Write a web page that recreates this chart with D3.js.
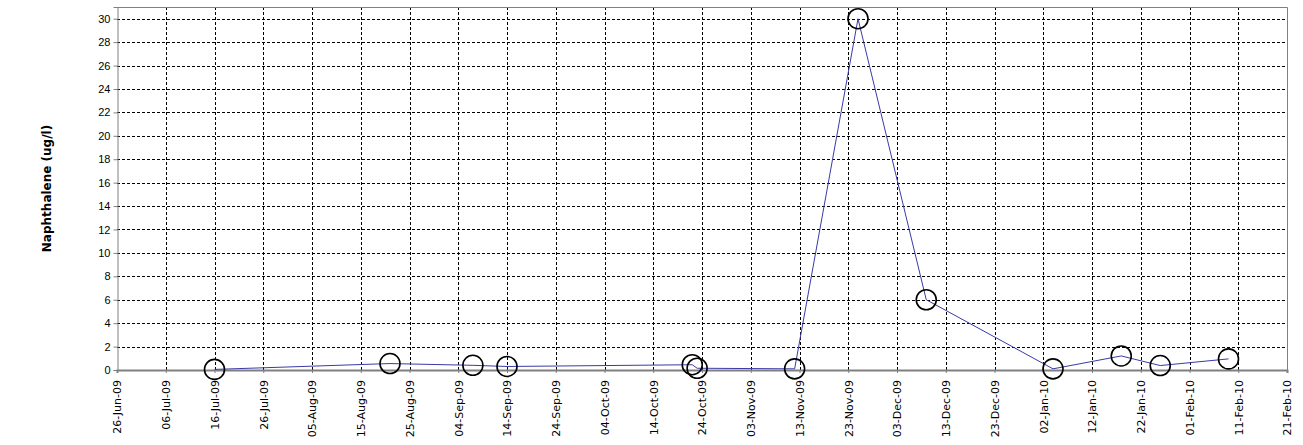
<!DOCTYPE html>
<html>
<head>
<meta charset="utf-8">
<script src="https://cdn.jsdelivr.net/npm/d3@7"></script>
<style>
  html, body { margin: 0; padding: 0; background: #fff; }
  svg { display: block; }
</style>
</head>
<body>
<svg id="chart" width="1303" height="445"></svg>
<script>
// ---- data ----
const sampleDates = ["16-Jul-09","21-Aug-09","07-Sep-09","14-Sep-09","22-Oct-09","23-Oct-09","12-Nov-09","25-Nov-09","09-Dec-09","04-Jan-10","18-Jan-10","26-Jan-10","09-Feb-10"];
const naphthalene = [0.05, 0.55, 0.4, 0.3, 0.45, 0.15, 0.1, 30, 6.0, 0.1, 1.2, 0.38, 0.95];
const xTickLabels = ["26-Jun-09","06-Jul-09","16-Jul-09","26-Jul-09","05-Aug-09","15-Aug-09","25-Aug-09","04-Sep-09","14-Sep-09","24-Sep-09","04-Oct-09","14-Oct-09","24-Oct-09","03-Nov-09","13-Nov-09","23-Nov-09","03-Dec-09","13-Dec-09","23-Dec-09","02-Jan-10","12-Jan-10","22-Jan-10","01-Feb-10","11-Feb-10","21-Feb-10"];
const yTicks = [0,2,4,6,8,10,12,14,16,18,20,22,24,26,28,30];
const yMax = 31;
const yTitle = "Naphthalene (ug/l)";

(function () {
  const parse = d3.utcParse("%d-%b-%y");
  const tickDates = xTickLabels.map(parse);
  const points = sampleDates.map((d, i) => ({ date: parse(d), value: naphthalene[i] }));

  const svg = d3.select("#chart");
  const pL = 117, pR = 1287, pT = 7, pB = 370;

  const x = d3.scaleUtc().domain([tickDates[0], tickDates[tickDates.length - 1]]).range([pL, pR]);
  const y = d3.scaleLinear().domain([0, yMax]).range([pB, pT]);

  // grid
  const grid = svg.append("g").attr("stroke", "#000").attr("stroke-width", 1).attr("stroke-dasharray", "3,2").attr("shape-rendering", "crispEdges");
  grid.selectAll("line.h").data(yTicks.filter(v => v > 0)).join("line")
    .attr("x1", pL).attr("x2", pR)
    .attr("y1", d => Math.round(y(d)) + 0.5).attr("y2", d => Math.round(y(d)) + 0.5);
  grid.selectAll("line.v").data(tickDates.slice(1, -1)).join("line")
    .attr("y1", pT).attr("y2", pB)
    .attr("x1", d => Math.round(x(d)) + 0.5).attr("x2", d => Math.round(x(d)) + 0.5);

  // frame (top & right)
  svg.append("path")
    .attr("d", `M${pL},${pT + 0.5}H${pR + 0.5}V${pB}`)
    .attr("fill", "none").attr("stroke", "#808080").attr("stroke-width", 1);

  // y axis
  const yAxis = d3.axisLeft(y).tickValues(yTicks).tickSize(4).tickPadding(3).tickFormat(d3.format("d"));
  const gy = svg.append("g").attr("transform", `translate(${pL + 0.5},0)`).call(yAxis);
  gy.select(".domain").attr("stroke", "#808080").attr("stroke-width", 1);
  gy.selectAll(".tick line").attr("stroke", "#808080");
  gy.selectAll(".tick text").attr("font-family", "'Liberation Sans', Arial, sans-serif").attr("font-size", 11).attr("fill", "#000");

  // x axis
  const xAxis = d3.axisBottom(x).tickValues(tickDates).tickSize(3).tickFormat((d, i) => xTickLabels[i]);
  const gx = svg.append("g").attr("transform", `translate(0,${pB})`).call(xAxis);
  gx.select(".domain").attr("stroke", "#808080").attr("stroke-width", 2);
  gx.selectAll(".tick line").attr("stroke", "#808080");
  gx.selectAll(".tick text")
    .attr("font-family", "'DejaVu Sans', Verdana, sans-serif").attr("font-size", 11).attr("fill", "#000")
    .attr("text-anchor", "end")
    .attr("transform", "rotate(-90)")
    .attr("x", -10).attr("y", 0).attr("dy", "0.35em");

  // line
  const line = d3.line().x(d => x(d.date)).y(d => y(d.value));
  svg.append("path").datum(points)
    .attr("d", line).attr("fill", "none").attr("stroke", "#3a3aa8").attr("stroke-width", 1);

  // markers
  svg.append("g").selectAll("circle").data(points).join("circle")
    .attr("cx", d => x(d.date)).attr("cy", d => y(d.value)).attr("r", 10)
    .attr("fill", "none").attr("stroke", "#000").attr("stroke-width", 1.6);

  // y title
  svg.append("text")
    .attr("transform", `translate(51,${(pT + pB) / 2}) rotate(-90)`)
    .attr("text-anchor", "middle")
    .attr("font-family", "'DejaVu Sans', Verdana, sans-serif").attr("font-weight", "bold").attr("font-size", 12)
    .attr("fill", "#000")
    .text(yTitle);
})();
</script>
</body>
</html>
